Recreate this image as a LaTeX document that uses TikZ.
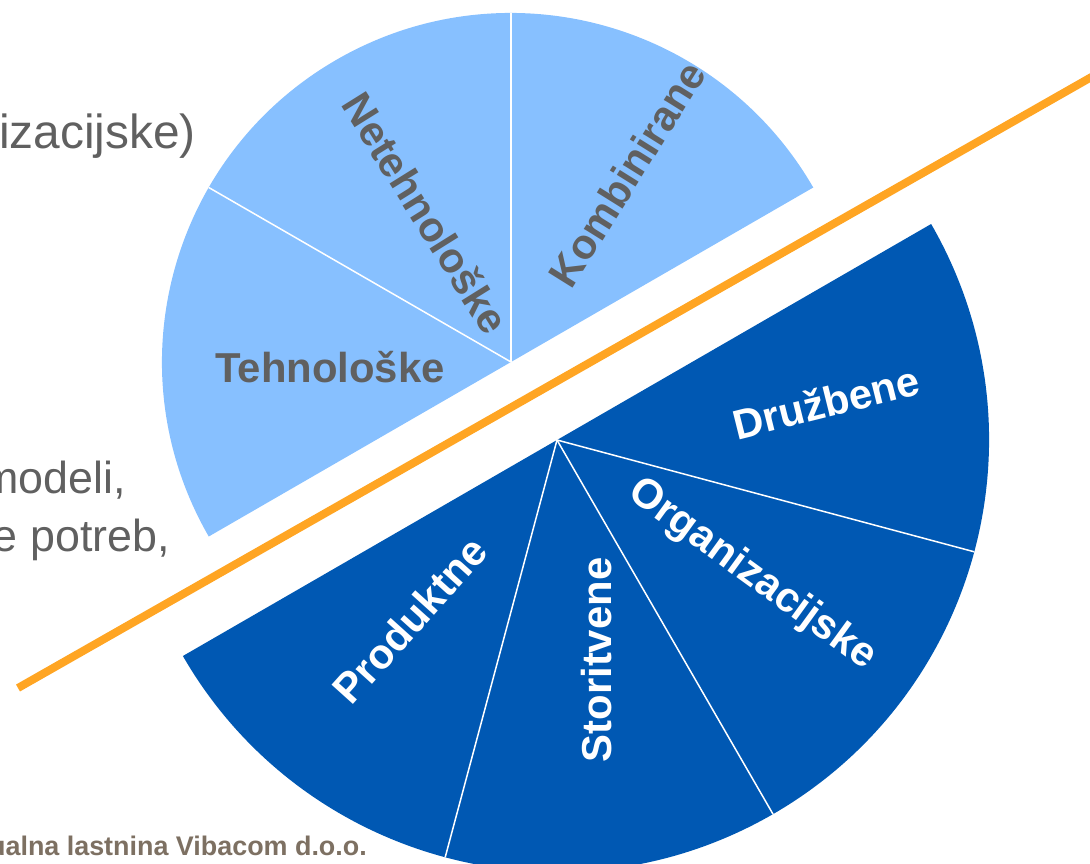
\documentclass[tikz,border=0pt]{standalone}
\usepackage{fontspec}
\setmainfont{Liberation Sans}
\usetikzlibrary{calc}
\definecolor{lightblue}{RGB}{135,192,255}
\definecolor{darkblue}{RGB}{0,88,179}
\definecolor{txtgray}{RGB}{96,96,96}
\definecolor{footbrown}{RGB}{125,112,98}
\definecolor{linorange}{RGB}{255,165,35}
\begin{document}
\begin{tikzpicture}[x=1bp,y=1bp,
  lab/.style={font=\fontsize{42}{48}\selectfont\bfseries, inner sep=0pt},
  graylab/.style={lab, text=txtgray},
  whitelab/.style={lab, text=white},
  side/.style={font=\fontsize{45}{52}\selectfont, text=txtgray, inner sep=0pt, anchor=base east},
  divider/.style={white, line width=1.5bp},
  ]
\useasboundingbox (0,-864) rectangle (1090,0);
\clip (0,-864) rectangle (1090,0);
% upper half-disc
\coordinate (C1) at (511,-362);
\fill[lightblue] (C1) -- ++(30:349) arc[start angle=30, end angle=210, radius=349] -- cycle;
\coordinate (U1) at ($(C1)+(90:349)$);
\coordinate (U2) at ($(C1)+(150:349)$);
% lower half-disc
\coordinate (C2) at (557,-440);
\fill[darkblue] (C2) -- ++(30:432) arc[start angle=30, end angle=-150, radius=432] -- cycle;
\coordinate (D1) at ($(C2)+(-15:432)$);
\coordinate (D2) at ($(C2)+(-60:432)$);
\coordinate (D3) at ($(C2)+(-105:432)$);
\draw[divider] (C1) -- (U1);
\draw[divider] (C1) -- (U2);
\draw[divider] (C2) -- (D1);
\draw[divider] (C2) -- (D2);
\draw[divider] (C2) -- (D3);
% orange line
\coordinate (L1) at (18,-688);
\coordinate (L2) at (1095,-75);
\draw[linorange, line width=8bp] (L1) -- (L2);
% side texts
\node[side, font=\fontsize{48}{54}\selectfont] (t1) at (196,-148) {izacijske)};
\node[side] (t2) at (126,-493) {modeli,};
\node[side] (t3) at (170,-551) {e potreb,};
\node[font=\fontsize{27}{32}\selectfont\bfseries, text=footbrown, anchor=base east, inner sep=0pt] (foot) at (367,-855) {ualna lastnina Vibacom d.o.o.};
% labels
\node[graylab, rotate=58] (komb) at (627,-174) {Kombinirane};
\node[graylab, rotate=-58] (neteh) at (426,-213) {Netehnološke};
\node[graylab, anchor=base] (teh) at (330,-382) {Tehnološke};
\node[whitelab, rotate=14] (druz) at (826,-402) {Družbene};
\node[whitelab, rotate=-36] (org) at (752,-575) {Organizacijske};
\node[whitelab, rotate=90] (stor) at (597,-660) {Storitvene};
\node[whitelab, rotate=48] (prod) at (410,-620) {Produktne};
\end{tikzpicture}
\end{document}
